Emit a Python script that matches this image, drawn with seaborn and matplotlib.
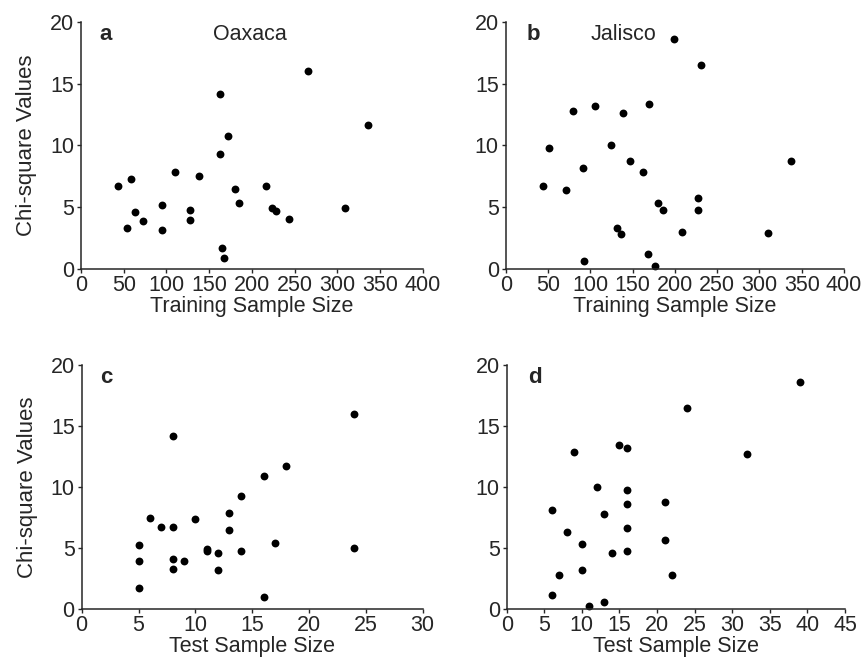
import matplotlib
matplotlib.use("Agg")
import matplotlib.pyplot as plt
import seaborn as sns
import pandas as pd

# Panel a: Oaxaca, training sample size vs chi-square
oax_train_x = [43, 58, 54, 63, 72, 95, 95, 110, 127, 128, 138, 163, 163, 172, 165, 167,
               180, 185, 217, 224, 228, 243, 266, 309, 336]
oax_train_y = [6.70, 7.29, 3.36, 4.60, 3.90, 5.20, 3.18, 7.83, 3.98, 4.79, 7.51, 14.13, 9.29,
               10.79, 1.75, 0.92, 6.49, 5.33, 6.76, 4.93, 4.68, 4.06, 16.02, 4.93, 11.66]

# Panel b: Jalisco, training sample size vs chi-square
jal_train_x = [44, 51, 71, 80, 91, 92, 105, 124, 131, 136, 139, 147, 162, 169, 168, 177,
               180, 186, 199, 209, 227, 227, 231, 310, 337]
jal_train_y = [6.76, 9.77, 6.38, 12.81, 8.18, 0.67, 13.22, 10.04, 3.36, 2.83, 12.62, 8.78,
               7.86, 13.35, 1.21, 0.30, 5.36, 4.79, 18.63, 3.01, 5.73, 4.82, 16.47, 2.93, 8.75]

# Panel c: Oaxaca, test sample size vs chi-square
oax_test_x = [5, 5, 5, 6, 7, 8, 8, 8, 8, 9, 10, 11, 11, 12, 12, 13, 13, 14, 14, 16, 16,
              17, 18, 24, 24]
oax_test_y = [5.24, 3.98, 1.75, 7.50, 6.74, 6.77, 14.19, 4.15, 3.33, 3.96, 7.37, 4.75, 4.95,
              4.64, 3.22, 7.89, 6.52, 9.30, 4.80, 10.89, 1.01, 5.43, 11.76, 16.02, 5.02]

# Panel d: Jalisco, test sample size vs chi-square
jal_test_x = [6, 6, 7, 8, 9, 10, 10, 11, 12, 13, 13, 14, 15, 16, 16, 16, 16, 16, 21, 21,
              22, 24, 32, 39]
jal_test_y = [8.13, 1.15, 2.81, 6.30, 12.85, 5.38, 3.22, 0.27, 10.04, 7.80, 0.63, 4.61,
              13.42, 13.21, 9.80, 8.62, 6.68, 4.77, 8.79, 5.68, 2.84, 16.51, 12.74, 18.64]

sns.set_style("ticks")
plt.rcParams['font.family'] = ['Liberation Sans', 'DejaVu Sans']
plt.rcParams['axes.linewidth'] = 1.1
plt.rcParams['xtick.major.size'] = 3
plt.rcParams['ytick.major.size'] = 3
plt.rcParams['xtick.major.width'] = 1.0
plt.rcParams['ytick.major.width'] = 1.0

FS = 15.5

fig = plt.figure(figsize=(8.66, 6.68), dpi=100)

panels = [
    dict(x=oax_train_x, y=oax_train_y, pos=[0.0935, 0.5969, 0.3949, 0.3706],
         xmax=400, xstep=50, xlabel="Training Sample Size", ylabel="Chi-square Values",
         letter="a", lx=29, title="Oaxaca", tx=198),
    dict(x=jal_train_x, y=jal_train_y, pos=[0.5840, 0.5969, 0.3906, 0.3706],
         xmax=400, xstep=50, xlabel="Training Sample Size", ylabel=None,
         letter="b", lx=33, title="Jalisco", tx=139),
    dict(x=oax_test_x, y=oax_test_y, pos=[0.0943, 0.0879, 0.3938, 0.3657],
         xmax=30, xstep=5, xlabel="Test Sample Size", ylabel="Chi-square Values",
         letter="c", lx=2.2, title=None, tx=None),
    dict(x=jal_test_x, y=jal_test_y, pos=[0.5851, 0.0879, 0.3906, 0.3657],
         xmax=45, xstep=5, xlabel="Test Sample Size", ylabel=None,
         letter="d", lx=3.7, title=None, tx=None),
]

for p in panels:
    ax = fig.add_axes(p["pos"])
    df = pd.DataFrame({"x": p["x"], "y": p["y"]})
    sns.scatterplot(data=df, x="x", y="y", ax=ax, color="black", s=32,
                    edgecolor="black", linewidth=0, clip_on=False)
    ax.set_xlim(0, p["xmax"])
    ax.set_ylim(0, 20)
    ax.set_xticks(range(0, p["xmax"] + 1, p["xstep"]))
    ax.set_yticks([0, 5, 10, 15, 20])
    ax.tick_params(labelsize=FS, direction="out")
    ax.tick_params(axis="x", pad=1)
    ax.tick_params(axis="y", pad=2)
    ax.set_xlabel(p["xlabel"], fontsize=FS, labelpad=0)
    if p["ylabel"]:
        ax.set_ylabel(p["ylabel"], fontsize=16, labelpad=9)
    else:
        ax.set_ylabel("")
    sns.despine(ax=ax)
    ax.text(p["lx"], 19.0, p["letter"], fontsize=16, fontweight="bold",
            ha="center", va="center")
    if p["title"]:
        ax.text(p["tx"], 19.0, p["title"], fontsize=FS, ha="center", va="center")

fig.savefig("out.png", dpi=100)
